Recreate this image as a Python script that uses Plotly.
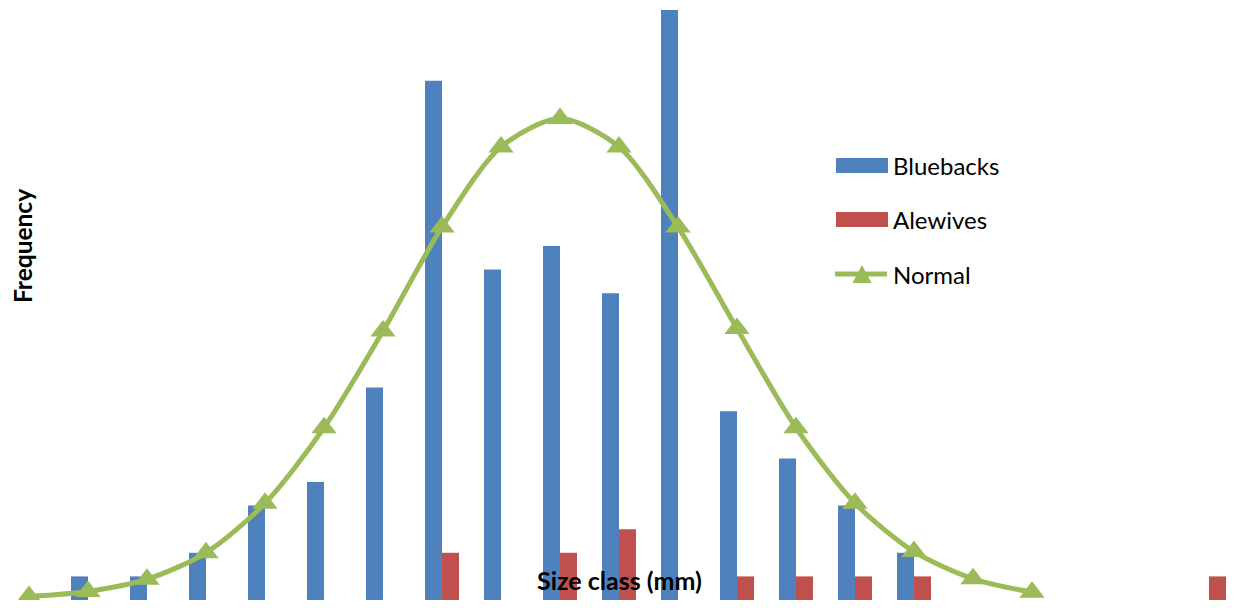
import plotly.graph_objects as go

# ---- data ----
size_classes = [0, 1, 2, 3, 4, 5, 6, 7, 8, 9, 10, 11, 12, 13, 14, 15, 16, 17, 18, 19, 20]
bluebacks = [0, 1, 1, 2, 4, 5, 9, 22, 14, 15, 13, 25, 8, 6, 4, 2, 0, 0, 0, 0, 0]
alewives = [0, 0, 0, 0, 0, 0, 0, 2, 0, 2, 3, 0, 1, 1, 1, 1, 0, 0, 0, 0, 1]
normal_classes = [0, 1, 2, 3, 4, 5, 6, 7, 8, 9, 10, 11, 12, 13, 14, 15, 16, 17]
normal = [0.15, 0.36, 0.88, 2.0, 4.1, 7.3, 11.4, 15.8, 19.2, 20.4, 19.2, 15.8,
          11.5, 7.3, 4.1, 2.05, 0.9, 0.33]

BLUE = "#4F81BD"
RED = "#C0504D"
GREEN = "#9BBB59"
FONT = "Lato"

W, H = 1236, 608
PLOT_H = 600  # plot area height in px (margin bottom 8)


def px(x):
    return x / W


def py(y):
    return (PLOT_H - y) / PLOT_H


fig = go.Figure()
fig.add_trace(go.Bar(x=size_classes, y=bluebacks, name="Bluebacks",
                     marker=dict(color=BLUE, line=dict(width=0))))
fig.add_trace(go.Bar(x=size_classes, y=alewives, name="Alewives",
                     marker=dict(color=RED, line=dict(width=0))))
fig.add_trace(go.Scatter(x=normal_classes, y=normal, name="Normal", mode="lines+markers",
                         line=dict(color=GREEN, width=5, shape="spline", smoothing=0.8),
                         marker=dict(symbol="triangle-up", size=22, color=GREEN)))

# ---- manual legend (wide swatches like the original) ----
shapes = [
    dict(type="rect", xref="paper", yref="paper", x0=px(836), x1=px(888), y0=py(173), y1=py(158),
         fillcolor=BLUE, line=dict(width=0)),
    dict(type="rect", xref="paper", yref="paper", x0=px(836), x1=px(888), y0=py(227), y1=py(212),
         fillcolor=RED, line=dict(width=0)),
    dict(type="line", xref="paper", yref="paper", x0=px(835), x1=px(887), y0=py(274), y1=py(274),
         line=dict(color=GREEN, width=5)),
    dict(type="path", xref="paper", yref="paper",
         path=f"M {px(862)},{py(265)} L {px(871.5)},{py(283)} L {px(852.5)},{py(283)} Z",
         fillcolor=GREEN, line=dict(width=0)),
]
legend_items = [("Bluebacks", 165.5), ("Alewives", 219.5), ("Normal", 274)]
annotations = [
    dict(text=t, xref="paper", yref="paper", x=px(891), y=py(yy), xanchor="left", yanchor="middle",
         showarrow=False, font=dict(family=FONT, size=24, color="#000000"))
    for t, yy in legend_items
]
annotations += [
    dict(text="<b>Size class (mm)</b>", xref="paper", yref="paper", x=px(619), y=py(580),
         xanchor="center", yanchor="middle", showarrow=False,
         font=dict(family=FONT, size=25, color="#000000")),
    dict(text="<b>Frequency</b>", xref="paper", yref="paper", x=px(22), y=py(246),
         xanchor="center", yanchor="middle", showarrow=False, textangle=-90,
         font=dict(family=FONT, size=24.5, color="#000000")),
]

fig.update_layout(
    width=W, height=H, autosize=False,
    margin=dict(l=0, r=0, t=0, b=H - PLOT_H, pad=0),
    paper_bgcolor="white", plot_bgcolor="white",
    barmode="group", bargap=0.424, bargroupgap=0,
    showlegend=False,
    shapes=shapes, annotations=annotations,
    font=dict(family=FONT),
)
fig.update_xaxes(range=[-29 / 59, -29 / 59 + W / 59], showgrid=False, zeroline=False,
                 showticklabels=False, showline=False, ticks="")
fig.update_yaxes(range=[0, PLOT_H / 23.6], showgrid=False, zeroline=False,
                 showticklabels=False, showline=False, ticks="")

fig.write_html("out.html", config={"displayModeBar": False},
               post_script="document.body.style.margin='0';")
